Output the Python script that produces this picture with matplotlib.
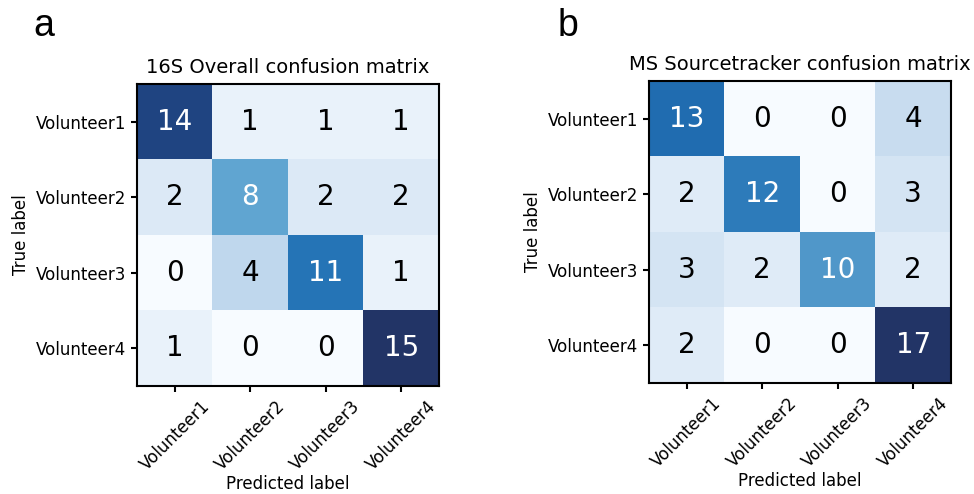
import matplotlib
matplotlib.use('Agg')
import matplotlib.pyplot as plt
from matplotlib.colors import LinearSegmentedColormap
import numpy as np

classes = ['Volunteer1', 'Volunteer2', 'Volunteer3', 'Volunteer4']

# 16S overall confusion matrix (rows = true, cols = predicted)
cm_16s = np.array([[14, 1, 1, 1],
                   [2, 8, 2, 2],
                   [0, 4, 11, 1],
                   [1, 0, 0, 15]])

# MS Sourcetracker confusion matrix
cm_ms = np.array([[13, 0, 0, 4],
                  [2, 12, 0, 3],
                  [3, 2, 10, 2],
                  [2, 0, 0, 17]])

titles = ['16S Overall confusion matrix', 'MS Sourcetracker confusion matrix']
panel_letters = ['a', 'b']

# Blues, with the dark end a bit washed out like the figure
blues = plt.cm.Blues
cmap = LinearSegmentedColormap.from_list('blues_soft', [
    (0.0, blues(0.0)), (0.25, blues(0.25)), (0.5, blues(0.5)),
    (0.75, blues(0.75)), (0.93, '#1f4583'), (1.0, '#223466')])


def plot_cm(ax, cm, title):
    ax.imshow(cm, interpolation='nearest', cmap=cmap, vmin=0, vmax=cm.max())
    ax.set_title(title, fontsize=14, pad=8)
    ticks = np.arange(len(classes))
    ax.set_xticks(ticks)
    ax.set_xticklabels(classes, rotation=45, fontsize=12)
    ax.set_yticks(ticks)
    ax.set_yticklabels(classes, fontsize=12)
    thresh = cm.max() / 2.
    for i in range(cm.shape[0]):
        for j in range(cm.shape[1]):
            ax.text(j, i, format(cm[i, j], 'd'), ha='center', va='center',
                    fontsize=20, color='white' if cm[i, j] > thresh else 'black')
    ax.set_ylabel('True label', fontsize=12)
    ax.set_xlabel('Predicted label', fontsize=12, labelpad=1)
    ax.tick_params(length=4.5, width=1.5)
    for s in ax.spines.values():
        s.set_linewidth(1.5)


fig = plt.figure(figsize=(9.74, 4.94), dpi=100)
ax1 = fig.add_axes([0.1407, 0.2186, 0.310, 0.611])
ax2 = fig.add_axes([0.6663, 0.2247, 0.310, 0.611])

plot_cm(ax1, cm_16s, titles[0])
plot_cm(ax2, cm_ms, titles[1])

fig.text(0.034, 0.928, panel_letters[0], fontsize=27, family='Liberation Sans')
fig.text(0.572, 0.928, panel_letters[1], fontsize=27, family='Liberation Sans')

fig.savefig('out.png', dpi=100)
